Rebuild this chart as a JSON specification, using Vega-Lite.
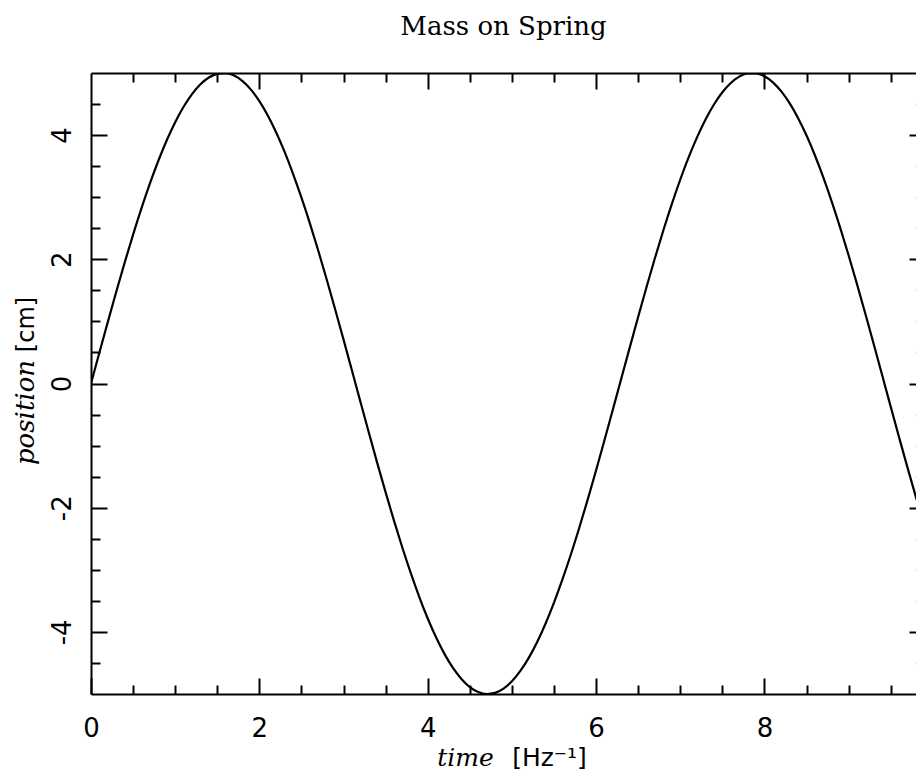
{
  "$schema": "https://vega.github.io/schema/vega-lite/v6.json",
  "width": 825,
  "height": 621,
  "autosize": "none",
  "padding": {"left": 91, "top": 73, "right": 0, "bottom": 78},
  "background": "white",
  "title": {"text": "Mass on Spring", "font": "DejaVu Serif", "fontSize": 26, "fontWeight": "normal", "color": "black", "anchor": "middle", "baseline": "alphabetic", "offset": 11},
  "config": {"view": {"stroke": null}, "axis": {"grid": false}},
  "data": {"values": [
    {"t": 0.0, "y": 0.0}, {"t": 0.1, "y": 0.499}, {"t": 0.2, "y": 0.993}, {"t": 0.3, "y": 1.478}, {"t": 0.4, "y": 1.947},
    {"t": 0.5, "y": 2.397}, {"t": 0.6, "y": 2.823}, {"t": 0.7, "y": 3.221}, {"t": 0.8, "y": 3.587}, {"t": 0.9, "y": 3.917},
    {"t": 1.0, "y": 4.207}, {"t": 1.1, "y": 4.456}, {"t": 1.2, "y": 4.660}, {"t": 1.3, "y": 4.818}, {"t": 1.4, "y": 4.927},
    {"t": 1.5, "y": 4.987}, {"t": 1.6, "y": 4.998}, {"t": 1.7, "y": 4.958}, {"t": 1.8, "y": 4.869}, {"t": 1.9, "y": 4.732},
    {"t": 2.0, "y": 4.546}, {"t": 2.1, "y": 4.316}, {"t": 2.2, "y": 4.043}, {"t": 2.3, "y": 3.729}, {"t": 2.4, "y": 3.377},
    {"t": 2.5, "y": 2.992}, {"t": 2.6, "y": 2.578}, {"t": 2.7, "y": 2.137}, {"t": 2.8, "y": 1.675}, {"t": 2.9, "y": 1.196},
    {"t": 3.0, "y": 0.706}, {"t": 3.1, "y": 0.208}, {"t": 3.2, "y": -0.292}, {"t": 3.3, "y": -0.789}, {"t": 3.4, "y": -1.278},
    {"t": 3.5, "y": -1.754}, {"t": 3.6, "y": -2.213}, {"t": 3.7, "y": -2.649}, {"t": 3.8, "y": -3.059}, {"t": 3.9, "y": -3.439},
    {"t": 4.0, "y": -3.784}, {"t": 4.1, "y": -4.091}, {"t": 4.2, "y": -4.358}, {"t": 4.3, "y": -4.581}, {"t": 4.4, "y": -4.758},
    {"t": 4.5, "y": -4.888}, {"t": 4.6, "y": -4.969}, {"t": 4.7, "y": -5.0}, {"t": 4.8, "y": -4.981}, {"t": 4.9, "y": -4.912},
    {"t": 5.0, "y": -4.795}, {"t": 5.1, "y": -4.629}, {"t": 5.2, "y": -4.418}, {"t": 5.3, "y": -4.162}, {"t": 5.4, "y": -3.864},
    {"t": 5.5, "y": -3.528}, {"t": 5.6, "y": -3.156}, {"t": 5.7, "y": -2.754}, {"t": 5.8, "y": -2.323}, {"t": 5.9, "y": -1.870},
    {"t": 6.0, "y": -1.397}, {"t": 6.1, "y": -0.911}, {"t": 6.2, "y": -0.416}, {"t": 6.3, "y": 0.084}, {"t": 6.4, "y": 0.582},
    {"t": 6.5, "y": 1.076}, {"t": 6.6, "y": 1.558}, {"t": 6.7, "y": 2.024}, {"t": 6.8, "y": 2.471}, {"t": 6.9, "y": 2.892},
    {"t": 7.0, "y": 3.285}, {"t": 7.1, "y": 3.645}, {"t": 7.2, "y": 3.968}, {"t": 7.3, "y": 4.252}, {"t": 7.4, "y": 4.493},
    {"t": 7.5, "y": 4.690}, {"t": 7.6, "y": 4.840}, {"t": 7.7, "y": 4.941}, {"t": 7.8, "y": 4.993}, {"t": 7.9, "y": 4.994},
    {"t": 8.0, "y": 4.947}, {"t": 8.1, "y": 4.850}, {"t": 8.2, "y": 4.704}, {"t": 8.3, "y": 4.511}, {"t": 8.4, "y": 4.273},
    {"t": 8.5, "y": 3.993}, {"t": 8.6, "y": 3.672}, {"t": 8.7, "y": 3.315}, {"t": 8.8, "y": 2.925}, {"t": 8.9, "y": 2.505},
    {"t": 9.0, "y": 2.061}, {"t": 9.1, "y": 1.596}, {"t": 9.2, "y": 1.115}, {"t": 9.3, "y": 0.623}, {"t": 9.4, "y": 0.124},
    {"t": 9.5, "y": -0.376}, {"t": 9.6, "y": -0.872}, {"t": 9.7, "y": -1.359}, {"t": 9.8, "y": -1.833}, {"t": 9.9, "y": -2.288}
  ]},
  "resolve": {"axis": {"x": "independent", "y": "independent"}},
  "layer": [
    {
      "mark": {"type": "line", "color": "black", "strokeWidth": 2.2, "interpolate": "monotone", "clip": true},
      "encoding": {
        "x": {"field": "t", "type": "quantitative", "scale": {"domain": [0, 9.8], "nice": false, "zero": false},
          "axis": {"orient": "bottom", "values": [0, 2, 4, 6, 8], "ticks": false, "domain": true, "domainColor": "black", "domainWidth": 2,
            "labelFont": "DejaVu Sans", "labelFontSize": 26, "labelColor": "black", "labelBaseline": "alphabetic", "labelPadding": 42, "labelFlush": false,
            "title": "time", "titleFont": "DejaVu Serif", "titleFontStyle": "italic", "titleFontWeight": "normal", "titleFontSize": 25, "titleColor": "black",
            "titleX": 374, "titleY": 71, "titleBaseline": "alphabetic", "titleAlign": "center"}},
        "y": {"field": "y", "type": "quantitative", "scale": {"domain": [-5, 5], "nice": false, "zero": false},
          "axis": {"orient": "left", "values": [-4, -2, 0, 2, 4], "ticks": false, "domain": true, "domainColor": "black", "domainWidth": 2,
            "labelFont": "DejaVu Sans", "labelFontSize": 26, "labelColor": "black", "labelAngle": -90, "labelAlign": "center", "labelBaseline": "alphabetic", "labelPadding": 21, "labelFlush": false,
            "labelExpr": "replace(datum.label, '−', '-')",
            "title": "position", "titleFont": "DejaVu Serif", "titleFontStyle": "italic", "titleFontWeight": "normal", "titleFontSize": 26, "titleColor": "black",
            "titleAngle": -90, "titleX": -58, "titleY": 339, "titleBaseline": "alphabetic", "titleAlign": "center"}}
      }
    },
    {
      "mark": {"type": "line", "opacity": 0},
      "encoding": {
        "x": {"field": "t", "type": "quantitative", "scale": {"domain": [0, 9.8], "nice": false, "zero": false},
          "axis": {"orient": "bottom", "values": [0, 2, 4, 6, 8], "ticks": true, "tickSize": -16, "tickWidth": 2, "tickColor": "black", "domain": false, "labels": false,
            "title": "[Hz⁻¹]", "titleFont": "DejaVu Sans", "titleFontWeight": "normal", "titleFontSize": 25, "titleColor": "black",
            "titleX": 458, "titleY": 71, "titleBaseline": "alphabetic", "titleAlign": "center"}},
        "y": {"field": "y", "type": "quantitative", "scale": {"domain": [-5, 5], "nice": false, "zero": false},
          "axis": {"orient": "left", "values": [-4, -2, 0, 2, 4], "ticks": true, "tickSize": -16, "tickWidth": 2, "tickColor": "black", "domain": false, "labels": false,
            "title": "[cm]", "titleFont": "DejaVu Sans", "titleFontWeight": "normal", "titleFontSize": 24, "titleColor": "black",
            "titleAngle": -90, "titleX": -58, "titleY": 251, "titleBaseline": "alphabetic", "titleAlign": "center"}}
      }
    },
    {
      "mark": {"type": "line", "opacity": 0},
      "encoding": {
        "x": {"field": "t", "type": "quantitative", "scale": {"domain": [0, 9.8], "nice": false, "zero": false},
          "axis": {"orient": "bottom", "values": [0.5, 1, 1.5, 2.5, 3, 3.5, 4.5, 5, 5.5, 6.5, 7, 7.5, 8.5, 9, 9.5], "ticks": true, "tickSize": -9, "tickWidth": 2, "tickColor": "black", "domain": false, "labels": false, "title": null}},
        "y": {"field": "y", "type": "quantitative", "scale": {"domain": [-5, 5], "nice": false, "zero": false},
          "axis": {"orient": "left", "values": [-4.5, -3.5, -3, -2.5, -1.5, -1, -0.5, 0.5, 1, 1.5, 2.5, 3, 3.5, 4.5], "ticks": true, "tickSize": -9, "tickWidth": 2, "tickColor": "black", "domain": false, "labels": false, "title": null}}
      }
    },
    {
      "mark": {"type": "line", "opacity": 0},
      "encoding": {
        "x": {"field": "t", "type": "quantitative", "scale": {"domain": [0, 9.8], "nice": false, "zero": false},
          "axis": {"orient": "top", "values": [2, 4, 6, 8], "ticks": true, "tickSize": -16, "tickWidth": 2, "tickColor": "black", "domain": true, "domainColor": "black", "domainWidth": 2, "labels": false, "title": null}},
        "y": {"field": "y", "type": "quantitative", "scale": {"domain": [-5, 5], "nice": false, "zero": false},
          "axis": {"orient": "right", "values": [-4, -2, 0, 2, 4], "ticks": true, "tickSize": -7, "tickWidth": 2, "tickColor": "black", "domain": false, "labels": false, "title": null}}
      }
    },
    {
      "mark": {"type": "line", "opacity": 0},
      "encoding": {
        "x": {"field": "t", "type": "quantitative", "scale": {"domain": [0, 9.8], "nice": false, "zero": false},
          "axis": {"orient": "top", "values": [0.5, 1, 1.5, 2.5, 3, 3.5, 4.5, 5, 5.5, 6.5, 7, 7.5, 8.5, 9, 9.5], "ticks": true, "tickSize": -9, "tickWidth": 2, "tickColor": "black", "domain": false, "labels": false, "title": null}},
        "y": {"field": "y", "type": "quantitative", "scale": {"domain": [-5, 5], "nice": false, "zero": false},
          "axis": {"orient": "right", "values": [-4.5, -3.5, -3, -2.5, -1.5, -1, -0.5, 0.5, 1, 1.5, 2.5, 3, 3.5, 4.5], "ticks": true, "tickSize": -1, "tickWidth": 2, "tickColor": "#bbbbbb", "domain": false, "labels": false, "title": null}}
      }
    }
  ]
}
